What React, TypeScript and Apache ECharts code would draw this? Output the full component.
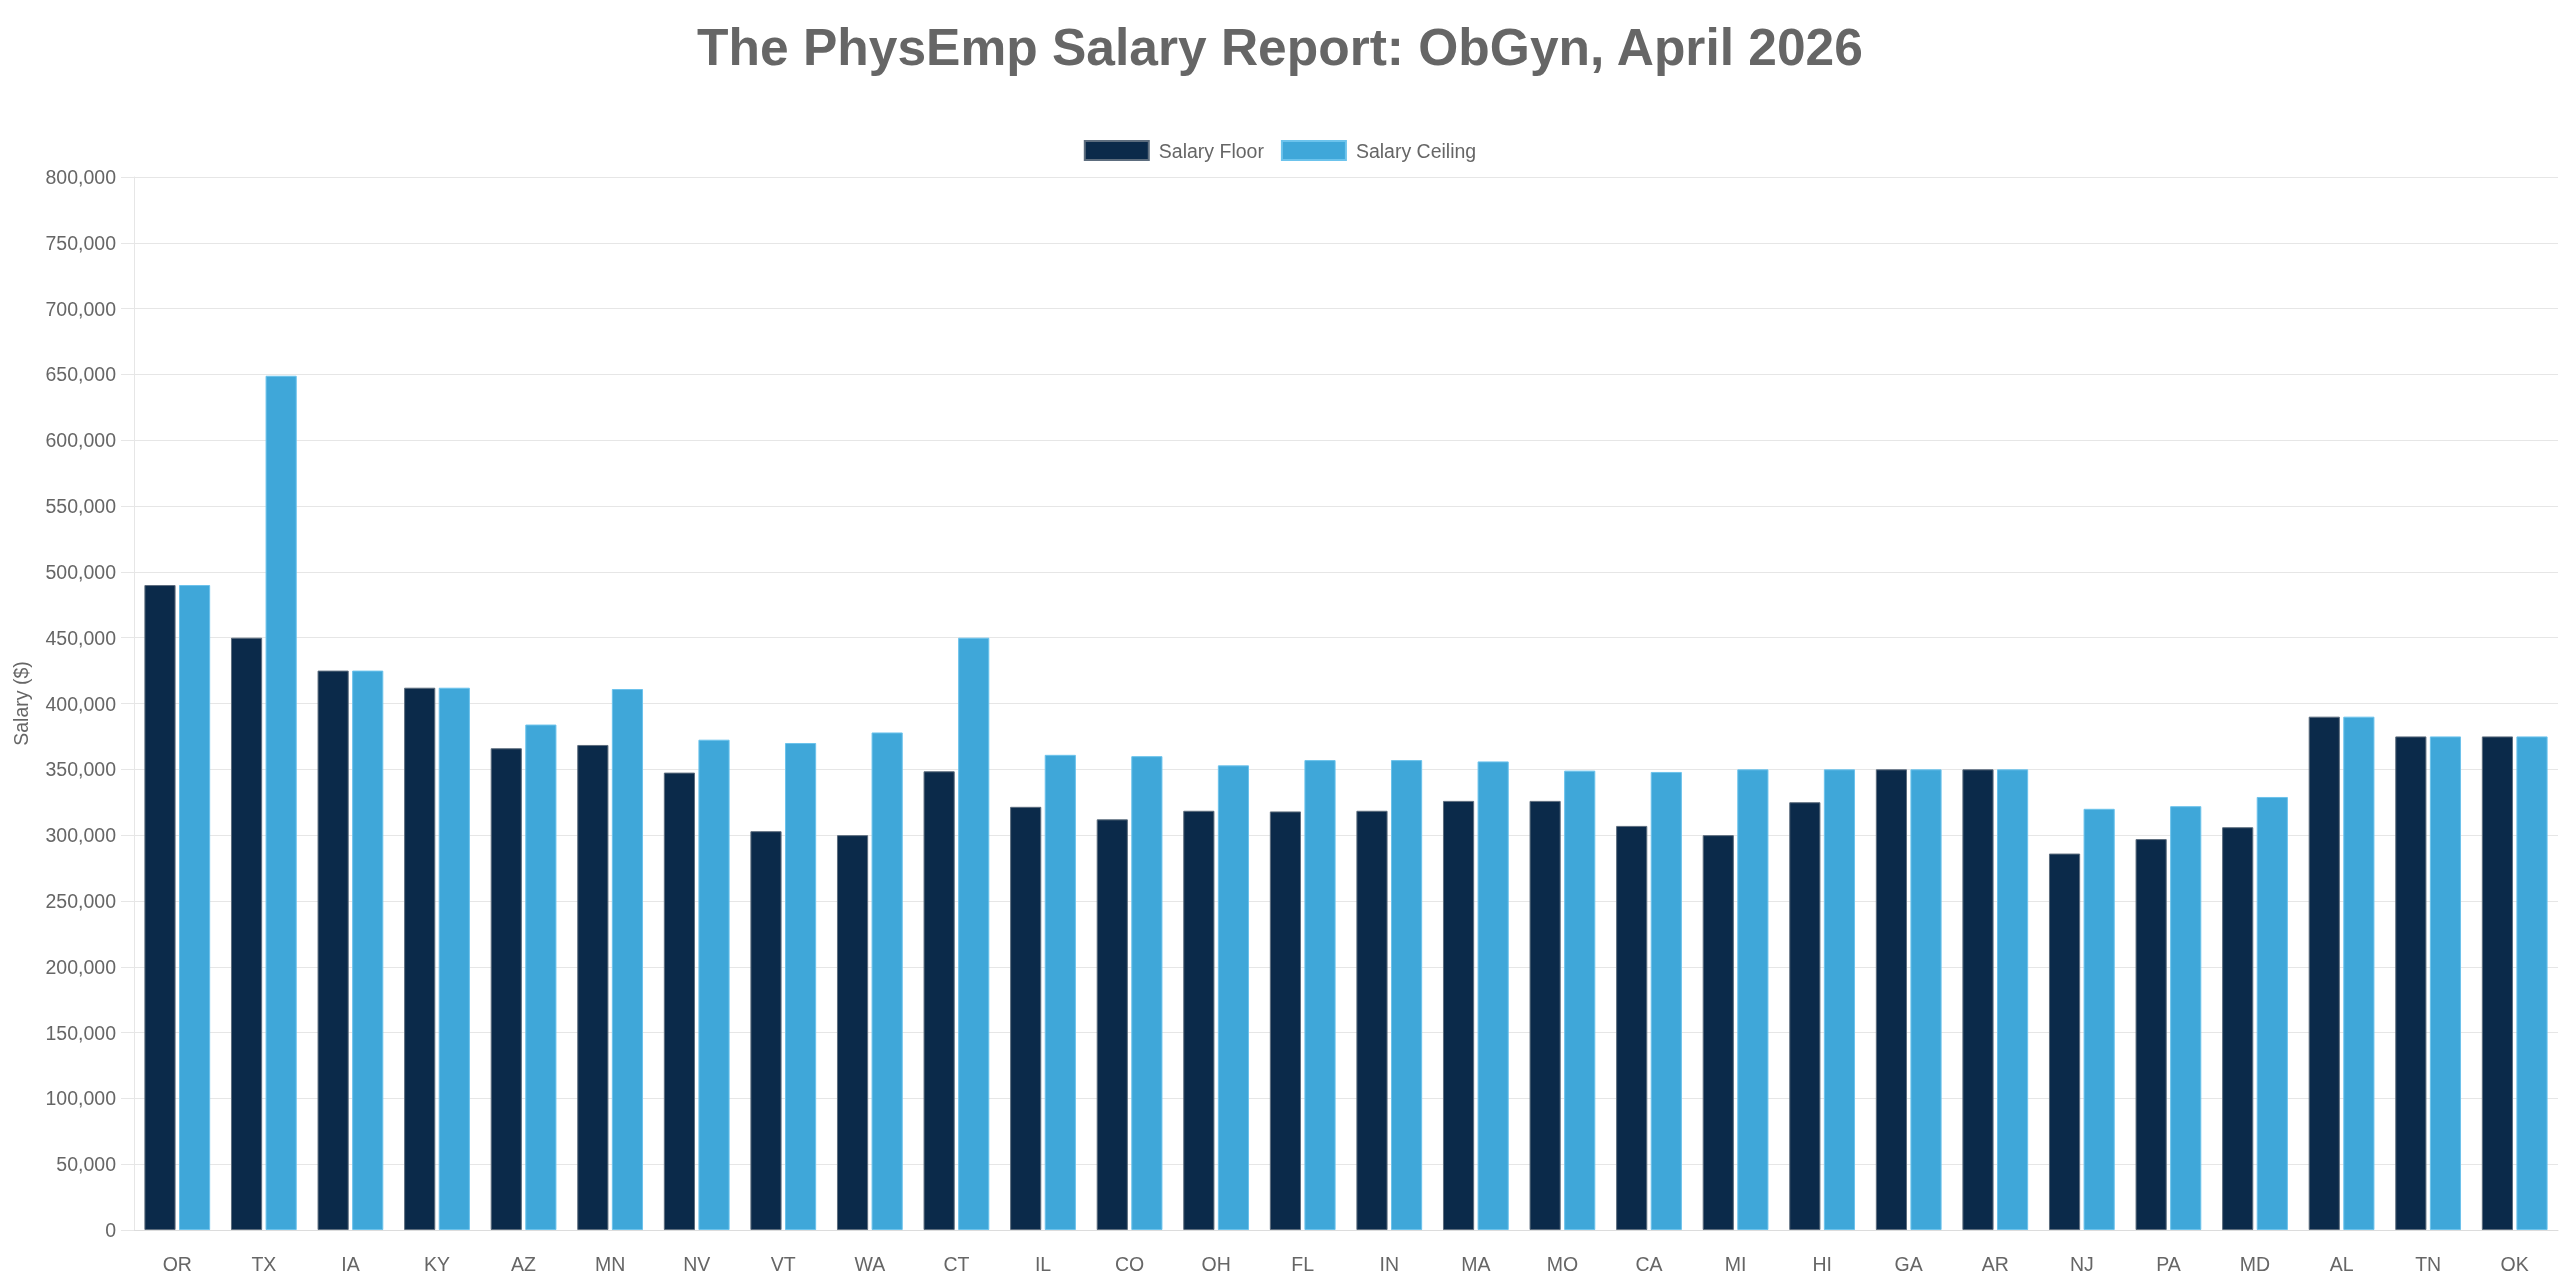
import React, { useEffect, useRef } from "react";
import * as echarts from "echarts";

const states = ["OR","TX","IA","KY","AZ","MN","NV","VT","WA","CT","IL","CO","OH","FL","IN","MA","MO","CA","MI","HI","GA","AR","NJ","PA","MD","AL","TN","OK"];
const salaryFloor = [490000,450000,425000,412000,366000,368500,347500,303000,300000,348500,321500,312000,318500,318000,318500,326000,326000,307000,300000,325000,350000,350000,286000,297000,306000,390000,375000,375000];
const salaryCeiling = [490000,649000,425000,412000,384000,411000,372500,370000,378000,450000,361000,360000,353000,357000,357000,356000,349000,348000,350000,350000,350000,350000,320000,322000,329000,390000,375000,375000];
const yTicks = { min: 0, max: 800000, interval: 50000 };

const FONT = "'Liberation Sans', Arial, Helvetica, sans-serif";
const TEXT = "#666666";
const GRID = "#e6e6e6";

export default function App() {
  const ref = useRef<HTMLDivElement>(null);
  useEffect(() => {
    if (!ref.current) return;
    const chart = echarts.init(ref.current, null, { renderer: "svg" });
    chart.setOption({
      animation: false,
      textStyle: { fontFamily: FONT },
      title: {
        text: "The PhysEmp Salary Report: ObGyn, April 2026",
        left: "center",
        top: 16,
        textStyle: { fontFamily: FONT, fontSize: 51.5, fontWeight: "bold", color: TEXT },
      },
      legend: {
        top: 135,
        left: "center",
        icon: "rect",
        itemWidth: 64,
        itemHeight: 19,
        itemGap: 17,
        textStyle: { fontFamily: FONT, fontSize: 19.5, color: TEXT, padding: [0, 0, 0, 5] },
        data: ["Salary Floor", "Salary Ceiling"],
      },
      grid: { left: 134, right: 2, top: 177, bottom: 50, containLabel: false },
      xAxis: {
        type: "category",
        data: states,
        axisLine: { show: true, lineStyle: { color: "#dcdcdc", width: 1 } },
        axisTick: { show: false },
        splitLine: { show: false },
        axisLabel: { fontFamily: FONT, fontSize: 19.5, color: TEXT, margin: 24, interval: 0 },
      },
      yAxis: {
        type: "value",
        min: yTicks.min,
        max: yTicks.max,
        interval: yTicks.interval,
        name: "Salary ($)",
        nameLocation: "middle",
        nameGap: 103,
        nameRotate: 90,
        nameTextStyle: { fontFamily: FONT, fontSize: 19.5, color: TEXT },
        axisLine: { show: true, lineStyle: { color: GRID, width: 1 } },
        axisTick: { show: true, length: 13, lineStyle: { color: GRID } },
        splitLine: { show: true, lineStyle: { color: GRID, width: 1 } },
        axisLabel: {
          fontFamily: FONT,
          fontSize: 19.5,
          color: TEXT,
          margin: 18,
          formatter: (v: number) => v.toLocaleString("en-US"),
        },
      },
      series: [
        {
          name: "Salary Floor",
          type: "bar",
          data: salaryFloor,
          barWidth: "36%",
          barGap: "11%",
          itemStyle: { color: "#0b2a4a", borderColor: "#5d6d7e", borderWidth: 1 },
        },
        {
          name: "Salary Ceiling",
          type: "bar",
          data: salaryCeiling,
          barWidth: "36%",
          barGap: "11%",
          itemStyle: { color: "#3fa7d9", borderColor: "#6cc3ec", borderWidth: 1 },
        },
      ],
    });
    return () => chart.dispose();
  }, []);
  return (
    <div
      ref={ref}
      style={{ position: "fixed", left: 0, top: 0, width: "100vw", height: "100vh" }}
    />
  );
}
